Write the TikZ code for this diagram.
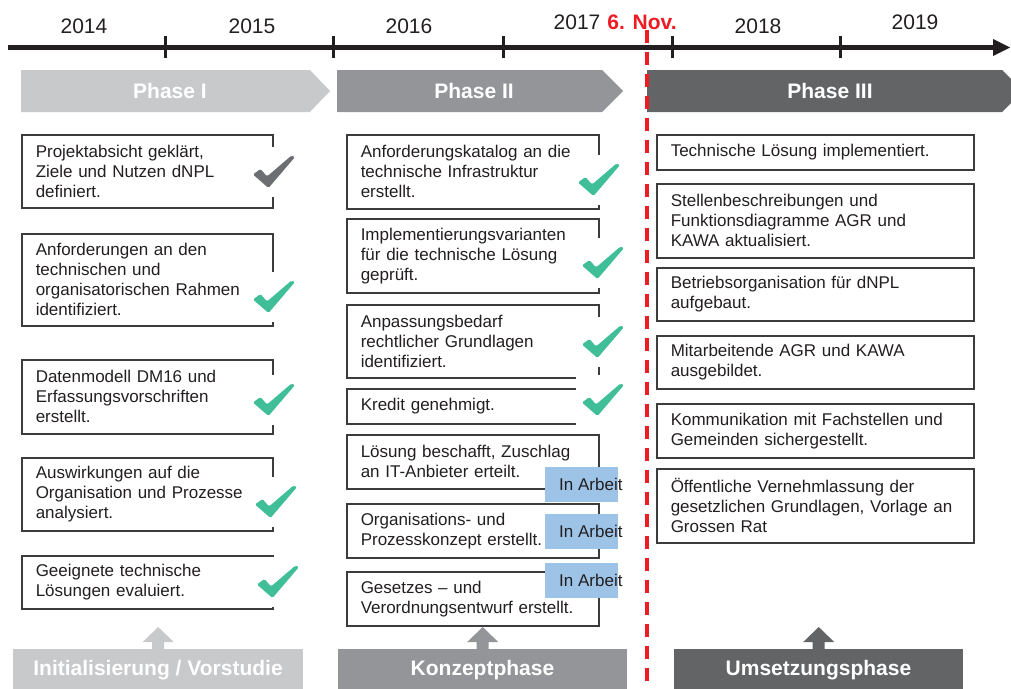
\documentclass[tikz,border=0pt]{standalone}
\usepackage{fontspec}
\setmainfont{Liberation Sans}
\usetikzlibrary{calc}
\definecolor{txt}{HTML}{231F20}
\definecolor{pone}{HTML}{C8C9CB}
\definecolor{ptwo}{HTML}{939598}
\definecolor{pthree}{HTML}{636466}
\definecolor{redline}{HTML}{ED1C24}
\definecolor{chkgreen}{HTML}{40BE98}
\definecolor{chkgray}{HTML}{6D6E71}
\definecolor{arbeit}{HTML}{9DC3E6}
\definecolor{bordercol}{HTML}{3C3C3C}
\newcommand\bdfont{\fontsize{17}{20}\selectfont}
\newcommand\bigfont{\fontsize{21}{24}\selectfont}
\tikzset{
  tbox/.style={draw=bordercol, line width=1.5pt, fill=white, anchor=north west,
    inner xsep=14pt, inner ysep=0pt, align=left, font=\bdfont, text=txt},
  lbox/.style={tbox, text width=223pt},
  mbox/.style={tbox, text width=224pt},
  rbox/.style={tbox, text width=289pt},
  year/.style={font=\bigfont, text=txt, inner sep=0pt},
  phlabel/.style={font=\bigfont\bfseries, text=white, inner sep=0pt},
  ibox/.style={fill=arbeit, anchor=north west, minimum width=73pt, minimum height=35pt, inner sep=0pt},
  itext/.style={anchor=west, inner sep=0pt, font=\bdfont, text=txt},
  bottombox/.style={anchor=north west, inner sep=0pt, minimum height=44pt},
  chk/.pic={
    \fill[white] (-6,-8) rectangle (48,42);
    \path[pic actions, rounded corners=1.5pt] (0,19.5) -- (7.5,14) -- (14,21.5) -- (38.5,0.5) -- (42,2) -- (15.5,33) -- cycle;
  }
}
\begin{document}
\begin{tikzpicture}[x=1pt,y=-1pt]
\useasboundingbox (0,0) rectangle (1011,688);
\clip (0,0) rectangle (1011,688);

% timeline
\coordinate (tl0) at (8,47.5);
\coordinate (tl1) at (994,47.5);
\coordinate (tip) at (1010,47.5);
\draw[line width=5pt, txt] (tl0) -- (tl1);
\fill[txt] (993,39) -- (tip) -- (993,56) -- cycle;
\foreach \x in {165,333,503,672,840}
  \draw[line width=3pt, txt] (\x,36) -- (\x,58);

% years
\node[year] (y14) at (84,26) {2014};
\node[year] (y15) at (252,26) {2015};
\node[year] (y16) at (409,26) {2016};
\node[year] (y17) at (577,22) {2017};
\node[font=\bigfont\bfseries, text=redline, inner sep=0pt] (nov) at (642,22) {6. Nov.};
\node[year] (y18) at (758,26) {2018};
\node[year] (y19) at (915,22) {2019};

% phase banners
\fill[pone] (21,70) -- (310,70) -- (330,91) -- (310,112) -- (21,112) -- cycle;
\fill[ptwo] (337,70) -- (602,70) -- (623,91) -- (602,112) -- (337,112) -- cycle;
\fill[pthree] (647,70) -- (1002,70) -- (1023,91) -- (1002,112) -- (647,112) -- cycle;
\node[phlabel] (ph1) at (170,91) {Phase I};
\node[phlabel] (ph2) at (474,91) {Phase II};
\node[phlabel] (ph3) at (830,91) {Phase III};

% left column
\node[lbox, minimum height=73pt] (l1) at (21,134) {Projektabsicht geklärt,\\Ziele und Nutzen dNPL\\definiert.};
\node[lbox, minimum height=92pt] (l2) at (21,233) {Anforderungen an den\\technischen und\\organisatorischen Rahmen\\identifiziert.};
\node[lbox, minimum height=74pt] (l3) at (21,359) {Datenmodell DM16 und\\Erfassungsvorschriften\\erstellt.};
\node[lbox, minimum height=73pt] (l4) at (21,457) {Auswirkungen auf die\\Organisation und Prozesse\\analysiert.};
\node[lbox, minimum height=53pt] (l5) at (21,555) {Geeignete technische\\Lösungen evaluiert.};

% middle column
\node[mbox, minimum height=74pt] (m1) at (346,134) {Anforderungskatalog an die\\technische Infrastruktur\\erstellt.};
\node[mbox, minimum height=74pt] (m2) at (346,218) {Implementierungsvarianten\\für die technische Lösung\\geprüft.};
\node[mbox, minimum height=73pt] (m3) at (346,304) {Anpassungsbedarf\\rechtlicher Grundlagen\\identifiziert.};
\node[mbox, minimum height=35pt] (m4) at (346,388) {Kredit genehmigt.};
\node[mbox, minimum height=54pt] (m5) at (346,434) {Lösung beschafft, Zuschlag\\an IT-Anbieter erteilt.};
\node[mbox, minimum height=54pt] (m6) at (346,503) {Organisations- und\\Prozesskonzept erstellt.};
\node[mbox, minimum height=54pt] (m7) at (346,571) {Gesetzes -- und\\Verordnungsentwurf erstellt.};

% right column
\node[rbox, minimum height=35pt] (r1) at (656,134) {Technische Lösung implementiert.};
\node[rbox, minimum height=74pt] (r2) at (656,183) {Stellenbeschreibungen und\\Funktionsdiagramme AGR und\\KAWA aktualisiert.};
\node[rbox, minimum height=53pt] (r3) at (656,267) {Betriebsorganisation für dNPL\\aufgebaut.};
\node[rbox, minimum height=53pt] (r4) at (656,335) {Mitarbeitende AGR und KAWA\\ausgebildet.};
\node[rbox, minimum height=54pt] (r5) at (656,403) {Kommunikation mit Fachstellen und\\Gemeinden sichergestellt.};
\node[rbox, minimum height=74pt] (r6) at (656,468) {Öffentliche Vernehmlassung der\\gesetzlichen Grundlagen, Vorlage an\\Grossen Rat};

% check marks
\pic[fill=chkgray] (c1) at (253,155) {chk};
\pic[fill=chkgreen] (c2) at (253,280) {chk};
\pic[fill=chkgreen] (c3) at (253,383) {chk};
\pic[fill=chkgreen] (c4) at (255,485) {chk};
\pic[fill=chkgreen] (c5) at (257,565) {chk};
\pic[fill=chkgreen] (c6) at (578,163) {chk};
\pic[fill=chkgreen] (c7) at (582,246) {chk};
\pic[fill=chkgreen] (c8) at (582,325) {chk};
\pic[fill=chkgreen] (c9) at (582,383) {chk};

% in Arbeit
\node[ibox] (a1) at (545,467) {};
\node[ibox] (a2) at (545,514) {};
\node[ibox] (a3) at (545,563) {};
\node[itext] (a1t) at ([xshift=14pt]a1.west) {In Arbeit};
\node[itext] (a2t) at ([xshift=14pt]a2.west) {In Arbeit};
\node[itext] (a3t) at ([xshift=14pt]a3.west) {In Arbeit};

% bottom phases
\node[bottombox, fill=pone, minimum width=290pt] (b1) at (13,649) {};
\node[bottombox, fill=ptwo, minimum width=289pt] (b2) at (338,649) {};
\node[bottombox, fill=pthree, minimum width=289pt] (b3) at (674,649) {};
\node[phlabel] (b1t) at (158,670) {Initialisierung / Vorstudie};
\node[phlabel] (b2t) at (482.5,670) {Konzeptphase};
\node[phlabel] (b3t) at (818.5,670) {Umsetzungsphase};

% up arrows
\foreach \b/\c in {b1/pone, b2/ptwo, b3/pthree}
  \fill[\c] ($(\b.north)+(-6,0)$) -- ($(\b.north)+(-6,-7)$) -- ($(\b.north)+(-15.5,-7)$)
     -- ($(\b.north)+(0,-22)$) -- ($(\b.north)+(15.5,-7)$) -- ($(\b.north)+(6,-7)$)
     -- ($(\b.north)+(6,0)$) -- cycle;

% today line
\coordinate (d0) at (647,30);
\coordinate (d1) at (647,690);
\draw[redline, line width=3.5pt, dash pattern=on 13pt off 9pt] (d0) -- (d1);
\end{tikzpicture}
\end{document}
